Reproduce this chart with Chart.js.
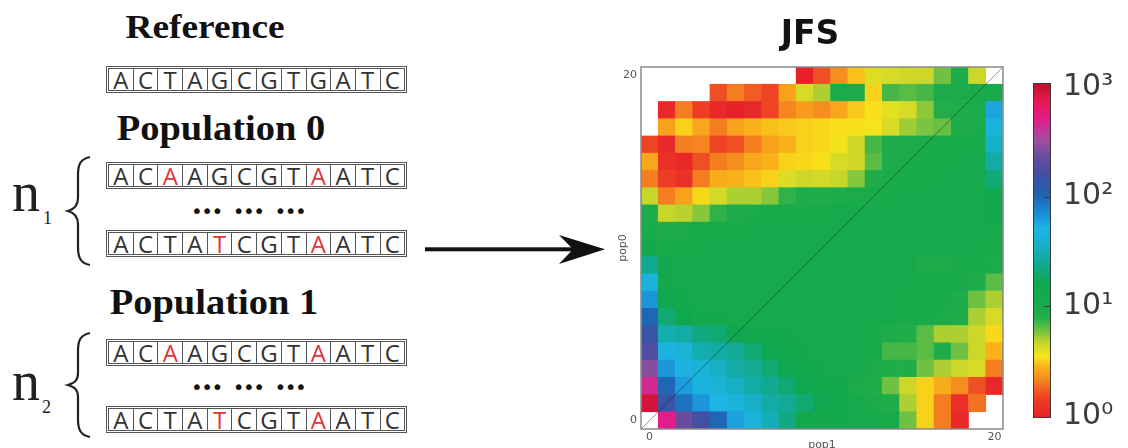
<!DOCTYPE html>
<html>
<head>
<meta charset="utf-8">
<script src="https://cdn.jsdelivr.net/npm/chart.js@4.4.0/dist/chart.umd.min.js"></script>
<style>
  html, body { margin: 0; padding: 0; width: 1128px; height: 448px; overflow: hidden; background: #fff; }
  .head { position: absolute; font-family: 'Liberation Serif', serif; font-weight: bold; color: #111;
          white-space: nowrap; text-align: center; line-height: 1; transform-origin: center; }
  .seq { position: absolute; left: 106px; display: flex; border: 1px solid #555; padding: 1px; }
  .seq span { box-sizing: border-box; width: 25.7px; height: 22.6px; line-height: 22.6px; border: 1px solid #555;
              text-align: center; font-family: 'Open Sans', sans-serif; font-size: 24px; color: #333; }
  .seq span + span { margin-left: -1px; }
  .seq span.mut { color: #e2343c; }
  .dots { position: absolute; font-family: 'DejaVu Sans', sans-serif; font-size: 20px; color: #111;
          line-height: 1; white-space: nowrap; word-spacing: 6px; letter-spacing: -1.5px; }
  .nlab { position: absolute; font-family: 'Liberation Serif', serif; color: #222; line-height: 1; }
  canvas { position: absolute; }
</style>
</head>
<body>
<svg width="1128" height="448" style="position:absolute;left:0;top:0">
  <path d="M 90 157 C 80 159, 78 165, 78 175 L 78 198 C 78 205, 75 209, 68 211 C 75 213, 78 217, 78 224 L 78 247 C 78 257, 80 263, 90 265" fill="none" stroke="#222" stroke-width="2.2"/>
  <path d="M 90 333 C 80 335, 78 341, 78 351 L 78 373 C 78 380, 75 383, 68 385 C 75 387, 78 390, 78 397 L 78 419 C 78 429, 80 435, 90 437" fill="none" stroke="#222" stroke-width="2.2"/>
  <rect x="425" y="247.3" width="150" height="4" fill="#111"/>
  <path d="M 605 249.3 L 559 235 L 573 249.3 L 559 264 Z" fill="#111"/>
</svg>

<div class="head" id="hRef" style="left:105px;top:10px;width:200px;font-size:34px">Reference</div>
<div class="head" id="hPop0" style="left:111px;top:111px;width:220px;font-size:35px">Population 0</div>
<div class="head" id="hPop1" style="left:104px;top:285px;width:220px;font-size:35px">Population 1</div>

<div class="nlab" style="left:12px;top:164px;font-size:56px">n</div>
<div class="nlab" style="left:43px;top:209px;font-size:18px">1</div>
<div class="nlab" style="left:12px;top:353px;font-size:56px">n</div>
<div class="nlab" style="left:42px;top:398px;font-size:18px">2</div>

<div id="seqs"></div>

<canvas id="jfs" width="442" height="460" style="left:590px;top:0px"></canvas>
<canvas id="cbar" width="108" height="448" style="left:1020px;top:0px"></canvas>

<script>
// Secuencias del esquema (izquierda)
const refSeq = 'ACTAGCGTGATC';
const hapA = 'ACAAGCGTAATC';
const hapB = 'ACTATCGTAATC';
const seqRows = [
    { seq: refSeq, top: 66 },
    { seq: hapA, top: 162 },
    { seq: hapB, top: 230 },
    { seq: hapA, top: 339 },
    { seq: hapB, top: 406 }
];
const dotRows = [201, 377];

// Bins del JFS (pop1 en x, pop0 en y)
const pop1Bins = [0, 1, 2, 3, 4, 5, 6, 7, 8, 9, 10, 11, 12, 13, 14, 15, 16, 17, 18, 19, 20];
const pop0Bins = [0, 1, 2, 3, 4, 5, 6, 7, 8, 9, 10, 11, 12, 13, 14, 15, 16, 17, 18, 19, 20];
const axisTicks = [0, 20];

// Conteos, fila de arriba (pop0 = 20) primero; 0 = celda vacia
const jfsRows = [
    [0, 0, 0, 0, 0, 0, 0, 0, 0, 1, 1.6, 2.2, 3.0, 4.0, 4.2, 4.4, 4.5, 6, 10, 4.5, 0],
    [0, 0, 0, 0, 1.6, 2.0, 1.7, 1.5, 2.5, 4.2, 5, 10, 10, 3.2, 7, 6.5, 7, 9, 10, 11, 11],
    [0, 1.1, 2.0, 1.4, 1.1, 1.0, 1.1, 1.5, 2.1, 2.4, 2.2, 2.6, 3.1, 3.4, 3.9, 4.2, 5.5, 8, 9, 10, 58],
    [0, 2.5, 3.2, 2.6, 2.0, 2.5, 2.8, 3.0, 3.1, 3.2, 3.3, 3.4, 3.4, 3.5, 4.2, 5.2, 5.8, 6.2, 8.5, 10, 45],
    [1.5, 1.1, 2.0, 2.1, 1.5, 1.6, 2.0, 2.5, 2.8, 3.2, 3.3, 3.6, 4.4, 7, 9, 10, 10, 11, 11, 12, 36],
    [2.6, 1.2, 1.1, 1.6, 2.0, 2.2, 2.6, 2.8, 3.2, 3.3, 3.4, 4.2, 4.4, 6.5, 9, 10, 11, 11, 12, 12, 28],
    [2.0, 1.4, 1.2, 2.0, 2.7, 2.8, 3.0, 3.2, 4.1, 4.5, 4.3, 4.6, 5.6, 8.5, 10, 11, 11, 12, 12, 12, 21],
    [4.6, 2.0, 2.5, 3.3, 4.3, 5.0, 5.0, 5.6, 7.5, 9, 8.5, 9, 10, 11, 11, 12, 12, 12, 12, 12, 15],
    [9, 4.6, 4.8, 5.6, 7.5, 9.5, 10, 11, 11, 11, 11, 12, 12, 12, 12, 12, 12, 12, 12, 12, 13],
    [11, 9, 10, 11, 11, 11, 12, 12, 12, 12, 12, 12, 12, 12, 12, 12, 12, 12, 12, 12, 12],
    [13, 11, 11, 12, 12, 12, 12, 12, 12, 12, 12, 12, 12, 12, 12, 12, 12, 12, 12, 12, 11],
    [24, 13, 12, 12, 12, 12, 12, 12, 12, 12, 12, 12, 12, 12, 12, 12, 9, 9, 11, 11, 10],
    [45, 13, 12, 12, 12, 12, 12, 12, 12, 12, 12, 12, 12, 12, 12, 12, 11, 11, 11, 8.5, 6.5],
    [65, 16, 13, 12, 12, 12, 12, 12, 12, 12, 12, 12, 12, 12, 12, 11, 11, 11, 8.5, 6, 5],
    [100, 20, 15, 13, 13, 12, 12, 12, 12, 12, 12, 12, 12, 12, 12, 11, 11, 10, 8.5, 5, 4.2],
    [140, 30, 28, 22, 20, 16, 14, 13, 13, 12, 12, 12, 12, 11, 9, 8.5, 6.5, 5, 5, 4.5, 3.3],
    [180, 48, 42, 30, 28, 25, 20, 16, 14, 13, 12, 12, 12, 11, 7, 7, 6.5, 8.5, 6, 4.5, 2.8],
    [280, 65, 48, 42, 35, 28, 25, 20, 16, 14, 13, 12, 12, 10, 8.5, 8.5, 6, 5, 4.5, 4.2, 2.0],
    [450, 100, 62, 46, 42, 35, 28, 24, 20, 16, 14, 13, 10, 8.5, 6, 4.5, 3.2, 2.7, 2.2, 1.6, 1.1],
    [900, 140, 90, 65, 50, 45, 36, 28, 25, 20, 16, 14, 12, 10, 8.5, 5, 3.2, 2.0, 1.2, 1.9, 0],
    [0, 500, 230, 160, 100, 60, 45, 32, 22, 14, 13, 13, 12, 12, 11, 6, 3.2, 2.0, 1.1, 0, 0]
];

// Barra de color (escala log)
const cbarTicks = [1, 10, 100, 1000];
const cbarLabels = ['10\u2070', '10\u00b9', '10\u00b2', '10\u00b3'];
const cbarMin = 0.955;
const cbarMax = 1085;

// Mapa de colores: posicion en log10(v)/3
const cmapStops = [
    [0.00, '#e8202a'], [0.06, '#ee4524'], [0.11, '#f58a1f'], [0.15, '#f9b21a'],
    [0.18, '#f7e51a'], [0.22, '#c9d62a'], [0.26, '#6fc143'], [0.30, '#21ad4a'],
    [0.40, '#0fa84d'], [0.46, '#11a98f'], [0.52, '#17b0c8'], [0.57, '#1db4e8'],
    [0.62, '#1a88d2'], [0.67, '#1f64b2'], [0.73, '#3f4fa3'], [0.79, '#6a4c9e'],
    [0.84, '#a24d9f'], [0.90, '#e31c8c'], [0.96, '#e8174f'], [1.00, '#c4122e']
];

function hexRgb(h) {
    return [parseInt(h.slice(1, 3), 16), parseInt(h.slice(3, 5), 16), parseInt(h.slice(5, 7), 16)];
}

function colorFor(v) {
    let t = Math.log10(v) / 3;
    t = Math.max(0, Math.min(1, t));
    for (let i = 1; i < cmapStops.length; i++) {
        if (t <= cmapStops[i][0]) {
            const [t0, c0] = cmapStops[i - 1];
            const [t1, c1] = cmapStops[i];
            const f = (t - t0) / (t1 - t0);
            const a = hexRgb(c0), b = hexRgb(c1);
            const rgb = a.map((x, k) => Math.round(x + (b[k] - x) * f));
            return `rgb(${rgb[0]},${rgb[1]},${rgb[2]})`;
        }
    }
    return cmapStops[cmapStops.length - 1][1];
}

// Dibujar secuencias
const seqBox = document.getElementById('seqs');
seqRows.forEach((row) => {
    const div = document.createElement('div');
    div.className = 'seq';
    div.style.top = row.top + 'px';
    for (let i = 0; i < row.seq.length; i++) {
        const s = document.createElement('span');
        s.textContent = row.seq[i];
        if (row.seq[i] !== refSeq[i]) s.className = 'mut';
        div.appendChild(s);
    }
    seqBox.appendChild(div);
});
dotRows.forEach((top) => {
    const d = document.createElement('div');
    d.className = 'dots';
    d.style.left = '191px';
    d.style.top = top + 'px';
    d.textContent = '\u2022\u2022\u2022 \u2022\u2022\u2022 \u2022\u2022\u2022';
    seqBox.appendChild(d);
});

// Ajustar ancho de titulos
document.querySelectorAll('.head').forEach((el) => { el.style.transform = 'scaleX(1.1)'; });

Chart.defaults.font.family = "'DejaVu Sans', sans-serif";

// Datasets: una fila de celdas por cada valor de pop0
const nRows = pop0Bins.length;
const cellSets = pop0Bins.map((p0) => {
    const counts = jfsRows[nRows - 1 - p0];
    const data = [];
    pop1Bins.forEach((p1, c) => {
        if (counts[c] > 0) data.push({ x: p1, y: [p0 - 0.5, p0 + 0.5], v: counts[c] });
    });
    return {
        type: 'bar',
        data: data,
        grouped: false,
        barPercentage: 1,
        categoryPercentage: 1,
        borderWidth: 0,
        backgroundColor: (ctx) => ctx.raw ? colorFor(ctx.raw.v) : 'transparent',
        order: 2
    };
});

const lo = pop0Bins[0] - 0.5;
const hi = pop0Bins[pop0Bins.length - 1] + 0.5;

const framePlugin = {
    id: 'frame',
    afterDatasetsDraw(chart) {
        const { ctx, chartArea: a } = chart;
        ctx.save();
        ctx.strokeStyle = '#8a8a8a';
        ctx.lineWidth = 1.5;
        ctx.strokeRect(a.left, a.top, a.right - a.left, a.bottom - a.top);
        ctx.restore();
    }
};

new Chart(document.getElementById('jfs'), {
    type: 'bar',
    data: {
        datasets: cellSets.concat([{
            type: 'line',
            data: [{ x: lo, y: lo }, { x: hi, y: hi }],
            borderColor: 'rgba(30,30,30,0.45)',
            borderWidth: 1,
            pointRadius: 0,
            order: 0
        }])
    },
    options: {
        responsive: false,
        animation: false,
        events: [],
        layout: { padding: { left: 27, right: 29, top: 0, bottom: 0 } },
        plugins: {
            legend: { display: false },
            tooltip: { enabled: false },
            title: {
                display: true,
                text: 'JFS',
                color: '#111',
                font: { family: 'DejaVu Sans', size: 33, weight: 'bold' },
                padding: { top: 16, bottom: 11.4 }
            }
        },
        scales: {
            x: {
                type: 'linear', min: lo, max: hi, offset: false,
                grid: { display: false, drawTicks: false },
                border: { display: false },
                afterBuildTicks: (s) => { s.ticks = axisTicks.map(v => ({ value: v })); },
                ticks: { color: '#555', font: { size: 11 }, padding: 2 },
                title: { display: true, text: 'pop1', color: '#555', font: { size: 11 }, padding: { top: 0, bottom: 8 } },
                afterFit: (s) => { s.height = 31; }
            },
            y: {
                type: 'linear', min: lo, max: hi,
                grid: { display: false, drawTicks: false },
                border: { display: false },
                afterBuildTicks: (s) => { s.ticks = axisTicks.map(v => ({ value: v })); },
                ticks: { color: '#555', font: { size: 11 }, padding: 4 },
                title: { display: true, text: 'pop0', color: '#555', font: { size: 11 }, padding: 0 },
                afterFit: (s) => { s.width = 24; }
            }
        }
    },
    plugins: [framePlugin]
});

// Barra de color
const colorbarPlugin = {
    id: 'colorbar',
    beforeDatasetsDraw(chart) {
        const { ctx, chartArea: a } = chart;
        const ys = chart.scales.y;
        const y0 = ys.getPixelForValue(1);
        const y1 = ys.getPixelForValue(1000);
        const g = ctx.createLinearGradient(0, y0, 0, y1);
        cmapStops.forEach(([t, c]) => g.addColorStop(t, c));
        ctx.save();
        ctx.fillStyle = g;
        ctx.fillRect(a.left, a.top, a.right - a.left, a.bottom - a.top);
        ctx.strokeStyle = '#3a3a3a';
        ctx.lineWidth = 1;
        ctx.strokeRect(a.left + 0.5, a.top + 0.5, a.right - a.left - 1, a.bottom - a.top - 1);
        [10, 100].forEach((v) => {
            const y = Math.round(ys.getPixelForValue(v)) + 0.5;
            ctx.beginPath();
            ctx.moveTo(a.right - 7, y);
            ctx.lineTo(a.right, y);
            ctx.stroke();
        });
        ctx.restore();
    }
};

new Chart(document.getElementById('cbar'), {
    type: 'bar',
    data: { labels: [''], datasets: [] },
    options: {
        responsive: false,
        animation: false,
        events: [],
        layout: { padding: { left: 13, top: 83, bottom: 26, right: 0 } },
        plugins: { legend: { display: false }, tooltip: { enabled: false } },
        scales: {
            x: { display: false },
            y: {
                type: 'logarithmic', position: 'right', min: cbarMin, max: cbarMax,
                grid: { display: false, drawTicks: false },
                border: { display: false },
                afterBuildTicks: (s) => { s.ticks = cbarTicks.map(v => ({ value: v })); },
                ticks: {
                    color: '#3c3c3c',
                    font: { family: 'DejaVu Sans', size: 30 },
                    padding: 12,
                    callback: (value, index) => cbarLabels[index]
                },
                afterFit: (s) => { s.width = 77; }
            }
        }
    },
    plugins: [colorbarPlugin]
});
</script>
</body>
</html>
